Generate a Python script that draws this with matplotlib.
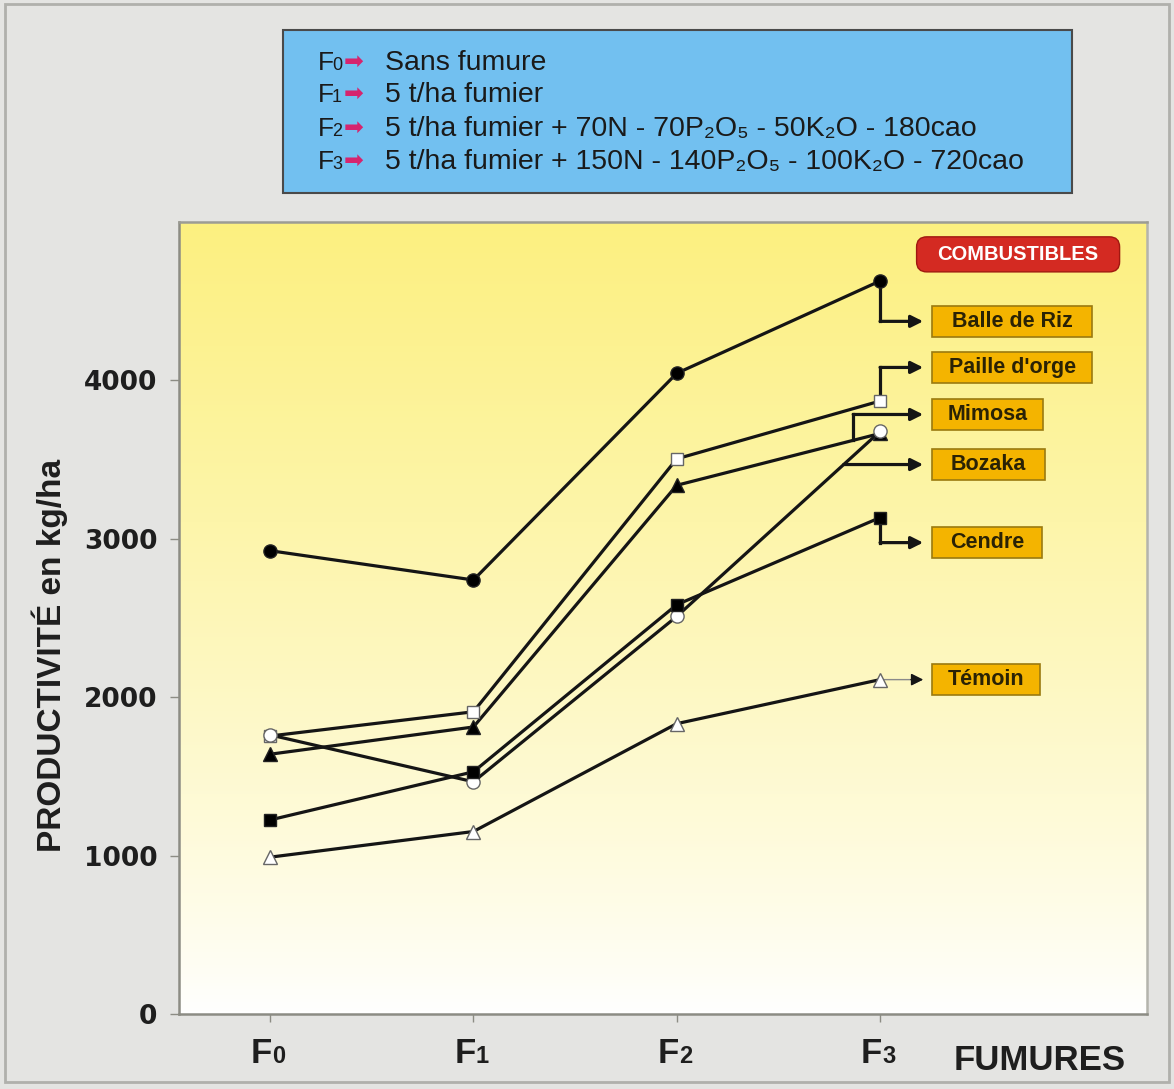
import numpy as np
import matplotlib
matplotlib.use("Agg")
import matplotlib.pyplot as plt
from matplotlib.patches import Rectangle, FancyBboxPatch
from matplotlib import font_manager
from matplotlib.transforms import blended_transform_factory

# pick a condensed font if there is one
names = {f.name for f in font_manager.fontManager.ttflist}
NARROW = "Liberation Sans Narrow" if "Liberation Sans Narrow" in names else "Liberation Sans"
SANS = "Liberation Sans"

# data (kg/ha)
fumures = ["F0", "F1", "F2", "F3"]
balle_de_riz = [2925, 2740, 4045, 4628]
paille_orge = [1755, 1908, 3505, 3870]
mimosa = [1640, 1812, 3338, 3665]
bozaka = [1762, 1466, 2510, 3678]
cendre = [1225, 1529, 2584, 3134]
temoin = [990, 1152, 1833, 2111]
series_names = ["Balle de Riz", "Paille d'orge", "Mimosa", "Bozaka", "Cendre", "Témoin"]
treatments = [
    "Sans fumure",
    "5 t/ha fumier",
    "5 t/ha fumier + 70N - 70P₂O₅ - 50K₂O - 180cao",
    "5 t/ha fumier + 150N - 140P₂O₅ - 100K₂O - 720cao",
]
yticks = [0, 1000, 2000, 3000, 4000]

all_series = [balle_de_riz, paille_orge, mimosa, bozaka, cendre, temoin]
# marker, face colour
styles = [("o", "black"), ("s", "white"), ("^", "black"),
          ("o", "white"), ("s", "black"), ("^", "white")]

x = np.arange(len(fumures))

fig = plt.figure(figsize=(11.74, 10.89), dpi=100)
fig.patch.set_facecolor("#e4e4e2")
fig.add_artist(Rectangle((0.004, 0.006), 0.992, 0.99, transform=fig.transFigure,
                         fill=False, edgecolor="#b0b0ac", lw=2))

ax = fig.add_axes([0.1525, 0.0689, 0.8245, 0.7272])
ax.set_xlim(-0.448, 4.313)
ax.set_ylim(0, 5000)

# yellow -> white gradient background
grad = np.linspace(0, 1, 256).reshape(-1, 1)
top = np.array([252, 240, 128]) / 255
bot = np.array([255, 255, 255]) / 255
img = bot + (top - bot) * grad[..., None] ** 0.85
ax.imshow(img, extent=[-0.448, 4.313, 0, 5000], origin="lower", aspect="auto", zorder=0)

# px -> data helpers (for label boxes and connectors)
PX_X = 1 / 203.3
PX_Y = 1000 / 158.25

for vals, (mk, fc) in zip(all_series, styles):
    ax.plot(x, vals, color="#151515", lw=2.3, zorder=3)
for vals, (mk, fc) in zip(all_series, styles):
    ax.plot(x, vals, ls="none", marker=mk, ms=9.5 if mk != "s" else 8.5,
            mfc=fc, mec="#222222" if fc == "black" else "#666666", mew=1.0, zorder=4)

# connectors to the labels
label_y = [4373, 4082, 3785, 3469, 2976, 2111]
arrow_x = 3.212
vert_x = [3, 3, 2.868, None, 3, 3]
for i, vals in enumerate(all_series):
    ly = label_y[i]
    if i == 3:
        # starts on the F2-F3 segment at label height
        xs = np.interp(ly, [vals[2], vals[3]], [2, 3])
        y0 = ly
    elif i == 2:
        xs = vert_x[i]
        y0 = np.interp(xs, [2, 3], [vals[2], vals[3]])
    else:
        xs = vert_x[i]
        y0 = vals[3]
    thin = i == 5
    col = "#8a8a8a" if thin else "#151515"
    lw = 1.0 if thin else 2.3
    if y0 != ly:
        ax.plot([xs, xs], [y0, ly], color=col, lw=lw, zorder=2)
    ax.annotate("", xy=(arrow_x, ly), xytext=(xs, ly),
                arrowprops=dict(arrowstyle="-|>", color=col, lw=lw, mutation_scale=18,
                                shrinkA=0, shrinkB=0), zorder=2)
    if thin:
        ax.annotate("", xy=(arrow_x, ly), xytext=(arrow_x - 0.06, ly),
                    arrowprops=dict(arrowstyle="-|>", color="#151515", lw=1,
                                    mutation_scale=18, shrinkA=0, shrinkB=0), zorder=2)

# label boxes
box_w = [160, 160, 111, 113, 110, 108]
box_left = 3.256
box_h = 31 * PX_Y
for name, ly, w in zip(series_names, label_y, box_w):
    ax.add_patch(Rectangle((box_left, ly - box_h / 2), w * PX_X, box_h,
                           facecolor="#f4b400", edgecolor="#9a7a10", lw=1.2, zorder=5))
    ax.text(box_left + w * PX_X / 2, ly, name, ha="center", va="center",
            fontsize=15.5, fontweight="bold", family=NARROW, color="#2a2205", zorder=6)

# COMBUSTIBLES tag
cb_w, cb_h = 203 * PX_X, 35 * PX_Y
cb_x, cb_y = 3.679, 4796
ax.add_patch(FancyBboxPatch((cb_x - cb_w / 2, cb_y - cb_h / 2), cb_w, cb_h,
                            boxstyle="round,pad=0,rounding_size=0.05",
                            mutation_aspect=PX_Y / PX_X,
                            facecolor="#d42a22", edgecolor="#a01810", lw=1, zorder=5))
ax.text(cb_x, cb_y, "COMBUSTIBLES", ha="center", va="center", fontsize=14.5,
        fontweight="bold", family=NARROW, color="white", zorder=6)

# axes styling
for side in ["left", "bottom", "top", "right"]:
    ax.spines[side].set_color("#8c8c84")
    ax.spines[side].set_linewidth(1.8)
ax.spines["top"].set_color("#9c9c94")
ax.spines["right"].set_color("#b4b4ac")

ax.set_yticks(yticks)
ax.set_yticklabels([str(v) for v in yticks], fontsize=19, fontweight="bold",
                   family="DejaVu Sans", color="#1e1e1e")
ax.tick_params(axis="y", length=6.5, width=1, color="#8c8c84", pad=9)
ax.set_xticks(x)
ax.set_xticklabels([""] * len(x))
ax.tick_params(axis="x", length=6, width=1, color="#8c8c84")

# tick labels F + small digit
tr = blended_transform_factory(ax.transData, fig.transFigure)
for xi, lab in zip(x, fumures):
    ax.text(xi + 2 * PX_X, 1 - 1063 / 1089, lab[0], transform=tr, ha="right", va="baseline",
            fontsize=25, fontweight="bold", family=NARROW, color="#1e1e1e")
    ax.text(xi + 2 * PX_X, 1 - 1063 / 1089, lab[1], transform=tr, ha="left", va="baseline",
            fontsize=17, fontweight="bold", family=NARROW, color="#1e1e1e")

fig.text(1040 / 1174, 1 - 1060 / 1089, "FUMURES", ha="center", va="center",
         fontsize=25, fontweight="bold", family=SANS, color="#1e1e1e")
fig.text(50 / 1174, 1 - 655 / 1089, "PRODUCTIVITÉ en kg/ha", rotation=90,
         ha="center", va="center", fontsize=24, fontweight="bold", family=SANS,
         color="#1e1e1e")

# treatment legend box
fig.add_artist(Rectangle((283 / 1174, 1 - 193 / 1089), 789 / 1174, 163 / 1089,
                         transform=fig.transFigure, facecolor="#72c0f0",
                         edgecolor="#4a4a4a", lw=1.5))
line_y = [70, 102, 136, 169]
for i, (lab, txt) in enumerate(zip(fumures, treatments)):
    yy = 1 - line_y[i] / 1089
    fig.text(318 / 1174, yy, lab[0], ha="left", va="baseline", fontsize=19,
             family=SANS, color="#1a1a1a")
    fig.text(332 / 1174, yy, lab[1], ha="left", va="baseline", fontsize=13,
             family=SANS, color="#1a1a1a")
    fig.text(344 / 1174, yy + 1 / 1089, "➡", ha="left", va="baseline", fontsize=17,
             family="DejaVu Sans", color="#d6246e")
    fig.text(385 / 1174, yy, txt, ha="left", va="baseline", fontsize=20.5,
             family=[SANS, "DejaVu Sans"], color="#1a1a1a")

fig.savefig("out.png", dpi=100, facecolor=fig.get_facecolor())
